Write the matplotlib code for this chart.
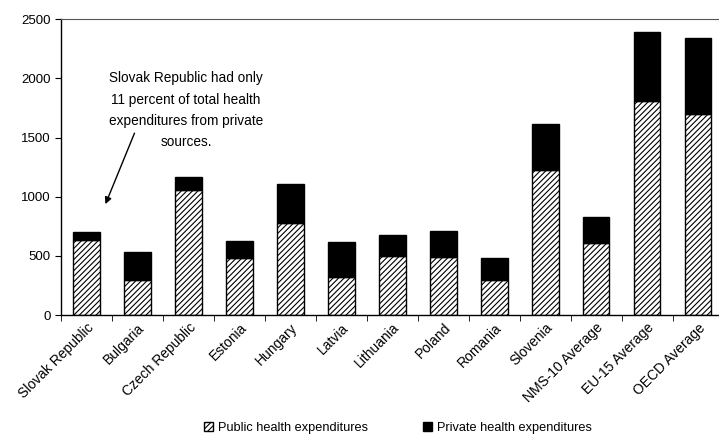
import matplotlib
matplotlib.use("Agg")
import matplotlib.pyplot as plt
from matplotlib.patches import Patch

plt.rcParams['font.family'] = ['Liberation Sans', 'DejaVu Sans']
plt.rcParams['hatch.linewidth'] = 0.8

categories = ["Slovak Republic", "Bulgaria", "Czech Republic", "Estonia", "Hungary",
              "Latvia", "Lithuania", "Poland", "Romania", "Slovenia",
              "NMS-10 Average", "EU-15 Average", "OECD Average"]
public = [633, 296, 1056, 481, 777, 321, 498, 490, 296, 1225, 608, 1807, 1698]
total = [705, 530, 1166, 625, 1106, 615, 676, 709, 481, 1613, 828, 2390, 2340]
private = [t - p for t, p in zip(total, public)]

fig = plt.figure(figsize=(7.19, 4.36), dpi=100)
ax = fig.add_axes([0.085, 0.2775, 0.925, 0.6785])

x = list(range(len(categories)))
w = 0.52
ax.bar(x, public, width=w, color='white', edgecolor='black', hatch='//////', linewidth=1.0)
ax.bar(x, private, width=w, bottom=public, color='black', edgecolor='black', linewidth=1.0)

ax.set_xlim(-0.5, 12.55)
ax.set_ylim(0, 2500)
ax.set_yticks([0, 500, 1000, 1500, 2000, 2500])
ax.tick_params(axis='y', labelsize=9.5, length=4, direction='out')
ax.set_xticks(x)
ax.set_xticklabels(categories, rotation=45, ha='right', rotation_mode='anchor', fontsize=10)
ax.set_xticks([i + 0.5 for i in range(-1, len(categories))], minor=True)
ax.tick_params(axis='x', which='major', length=0, pad=4)
ax.tick_params(axis='x', which='minor', length=4, direction='out')
ax.spines['right'].set_visible(False)
ax.spines['top'].set_color('#555555')
for s in ['left', 'bottom']:
    ax.spines[s].set_linewidth(1.0)

ax.text(1.95, 1731, "Slovak Republic had only\n11 percent of total health\nexpenditures from private\nsources.",
        ha='center', va='center', fontsize=9.8, linespacing=1.65)
ax.annotate("", xy=(0.37, 937), xytext=(0.94, 1537),
            arrowprops=dict(arrowstyle='-|>', color='black', lw=1.0, shrinkA=0, shrinkB=0,
                            mutation_scale=10))

handles = [Patch(facecolor='white', edgecolor='black', hatch='//////', label='Public health expenditures'),
           Patch(facecolor='black', edgecolor='black', label='Private health expenditures')]
fig.legend(handles=handles, loc='lower center', bbox_to_anchor=(0.554, -0.018), ncol=2,
           frameon=False, fontsize=9.2, handlelength=0.7, handleheight=0.7,
           handletextpad=0.4, columnspacing=4.3, borderpad=0.3)

fig.savefig("out.png", dpi=100)
